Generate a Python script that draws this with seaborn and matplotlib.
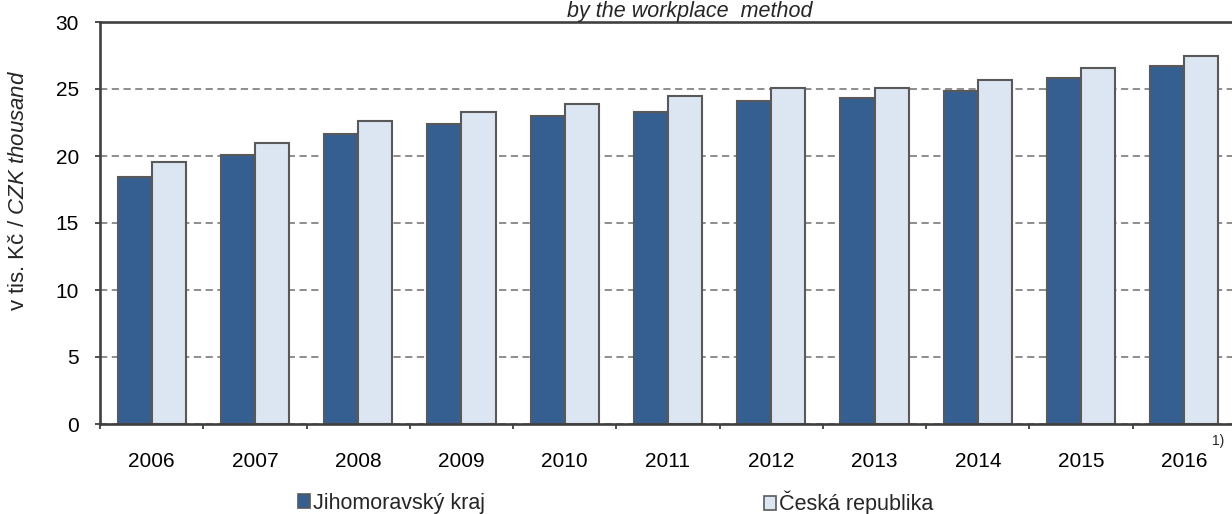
import matplotlib

matplotlib.use("Agg")

import matplotlib.pyplot as plt
import numpy as np
import pandas as pd
import seaborn as sns
from matplotlib.patches import Patch

# Průměrná hrubá měsíční mzda (tis. Kč), pracovištní metoda
years = ["2006", "2007", "2008", "2009", "2010", "2011", "2012", "2013", "2014", "2015", "2016"]
jmk = [18.4, 20.05, 21.65, 22.4, 23.0, 23.3, 24.1, 24.35, 24.85, 25.85, 26.75]
cr = [19.55, 20.95, 22.6, 23.3, 23.9, 24.5, 25.1, 25.1, 25.7, 26.6, 27.5]
series_names = ["Jihomoravský kraj", "Česká republika"]
series_colors = ["#365f91", "#dce6f2"]
y_ticks = [0, 5, 10, 15, 20, 25, 30]

W, H = 1232, 514
EDGE = "#595959"
AXIS = "#404040"

df = pd.DataFrame(
    {
        "rok": years * 2,
        "mzda": jmk + cr,
        "oblast": [series_names[0]] * len(years) + [series_names[1]] * len(years),
    }
)

sns.set_theme(style="white")
plt.rcParams["font.family"] = ["Liberation Sans", "DejaVu Sans"]
plt.rcParams["mathtext.fontset"] = "custom"
plt.rcParams["mathtext.rm"] = "Liberation Sans"
plt.rcParams["mathtext.it"] = "Liberation Sans:italic"

fig = plt.figure(figsize=(W / 100, H / 100), dpi=100)
ax = fig.add_axes([100 / W, 1 - 424 / H, 1136 / W, 402 / H])

sns.barplot(
    data=df,
    x="rok",
    y="mzda",
    hue="oblast",
    hue_order=series_names,
    palette=series_colors,
    saturation=1,
    width=0.66,
    edgecolor=EDGE,
    linewidth=1.5,
    legend=False,
    ax=ax,
)

ax.set_xlim(-0.5, len(years) - 0.5)
ax.set_ylim(0, 30)
ax.set_yticks(y_ticks)
ax.set_xlabel("")
ax.set_ylabel("")

ax.yaxis.grid(True, linestyle=(0, (4, 2.5)), color="#858585", linewidth=1.3)
ax.set_axisbelow(True)

for side in ["left", "bottom", "top"]:
    ax.spines[side].set_visible(True)
    ax.spines[side].set_color(AXIS)
    ax.spines[side].set_linewidth(1.9)
ax.spines["right"].set_visible(False)

ax.set_xticks(np.arange(-0.5, len(years), 1), minor=True)
ax.tick_params(axis="x", which="major", length=0, pad=20, labelsize=15, labelcolor="black")
ax.tick_params(axis="x", which="minor", bottom=True, direction="out", length=3.5, width=1.3, color=AXIS)
ax.tick_params(axis="y", left=True, direction="out", length=3.6, width=1.3, color=AXIS,
               pad=11.5, labelsize=15, labelcolor="black")

# poznámka u posledního roku
ax.annotate("1)", xy=(len(years) - 1, 0), xycoords=("data", "axes fraction"),
            xytext=(20, -7), textcoords="offset points", fontsize=10, ha="left", va="top")

fig.text(18.5 / W, 1 - 190 / H, r"v tis. Kč / $\mathit{CZK\ thousand}$",
         rotation=90, ha="center", va="center", fontsize=16)

# titulek je v originále oříznutý horním okrajem, zde se vejde celý
fig.text(690 / W, 1 - 0.5 / H, "by the workplace  method", style="italic",
         ha="center", va="top", fontsize=15.5)

for name, color, x0 in zip(series_names, series_colors, [298, 764]):
    handle = Patch(facecolor=color, edgecolor=EDGE, linewidth=1.2)
    fig.legend(
        [handle], [name],
        loc="center left",
        bbox_to_anchor=(x0 / W, 1 - 503 / H),
        frameon=False,
        fontsize=15.5,
        handlelength=0.55,
        handleheight=0.62,
        handletextpad=0.15,
        borderpad=0,
        borderaxespad=0,
    )

fig.savefig("out.png", dpi=100)
